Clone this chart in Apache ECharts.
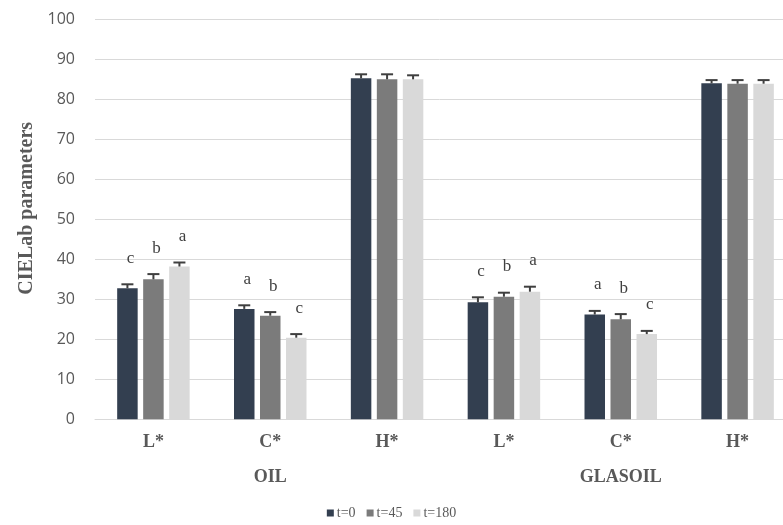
<!DOCTYPE html>
<html>
<head>
<meta charset="utf-8">
<script src="https://cdn.jsdelivr.net/npm/echarts@6/dist/echarts.min.js"></script>
<style>
  html, body { margin: 0; padding: 0; background: #ffffff; }
  #chart { width: 783px; height: 525px; }
</style>
</head>
<body>
<div id="chart"></div>
<script>
// CIELab colour parameters of the two products over storage time
const parameters = ['L*', 'C*', 'H*', 'L*', 'C*', 'H*'];
const products = ['', 'OIL', '', '', 'GLASOIL', ''];
const seriesNames = ['t=0', 't=45', 't=180'];

const t0 = [32.75, 27.6, 85.25, 29.25, 26.2, 84.0];
const t45 = [35.0, 25.9, 85.0, 30.65, 25.0, 83.9];
const t180 = [38.2, 20.4, 85.0, 31.9, 21.3, 83.9];

// standard deviations (upper error bars)
const sd0 = [1.0, 0.9, 1.0, 1.25, 0.9, 0.8];
const sd45 = [1.3, 0.9, 1.25, 1.0, 1.3, 0.9];
const sd180 = [1.0, 0.9, 1.0, 1.25, 0.8, 0.9];

// significance letters
const sig0 = ['c', 'a', '', 'c', 'a', ''];
const sig45 = ['b', 'b', '', 'b', 'b', ''];
const sig180 = ['a', 'c', '', 'a', 'c', ''];

const yTicks = { min: 0, max: 100, interval: 10 };

const colors = ['#333f50', '#7b7b7b', '#d9d9d9'];
const values = [t0, t45, t180];
const sds = [sd0, sd45, sd180];
const sigs = [sig0, sig45, sig180];

const BAR_W = 20.5;
const BAR_STEP = 26;

function errorSeries(k) {
  return {
    type: 'custom',
    xAxisIndex: 0,
    yAxisIndex: 0,
    z: 5,
    silent: true,
    data: values[k].map((v, i) => [i, v, sds[k][i]]),
    renderItem: function (params, api) {
      const i = api.value(0);
      const v = api.value(1);
      const e = api.value(2);
      const letter = sigs[k][i];
      const base = api.coord([i, v]);
      const top = api.coord([i, v + e]);
      const x = base[0] + (k - 1) * BAR_STEP;
      const children = [
        { type: 'line', shape: { x1: x, y1: base[1], x2: x, y2: top[1] },
          style: { stroke: '#3f3f3f', lineWidth: 2 } },
        { type: 'line', shape: { x1: x - 6, y1: top[1], x2: x + 6, y2: top[1] },
          style: { stroke: '#3f3f3f', lineWidth: 2 } }
      ];
      if (letter) {
        children.push({
          type: 'text',
          style: {
            x: x + 3, y: top[1] - 26, text: letter,
            fill: '#404040', font: '17px "Liberation Serif", serif',
            align: 'center', verticalAlign: 'middle'
          }
        });
      }
      return { type: 'group', children: children };
    }
  };
}

const chart = echarts.init(document.getElementById('chart'), null, { renderer: 'canvas' });

const barSeries = seriesNames.map((name, k) => ({
  name: name,
  type: 'bar',
  data: values[k],
  barWidth: BAR_W,
  barGap: ((BAR_STEP - BAR_W) / BAR_W * 100).toFixed(1) + '%',
  itemStyle: { color: colors[k] },
  z: 2
}));

chart.setOption({
  animation: false,
  backgroundColor: '#ffffff',
  grid: { left: 95, top: 19.3, width: 701, height: 400, containLabel: false, outerBoundsMode: 'none' },
  legend: {
    data: seriesNames,
    bottom: 0,
    left: 'center',
    icon: 'rect',
    itemWidth: 7,
    itemHeight: 7,
    itemGap: 11,
    textStyle: { color: '#595959', fontSize: 14, fontFamily: '"Liberation Serif", serif', padding: [0, 0, 0, -2] }
  },
  xAxis: [
    {
      type: 'category',
      data: parameters,
      axisLine: { lineStyle: { color: '#d9d9d9', width: 1 } },
      axisTick: { show: false },
      axisLabel: {
        interval: 0, margin: 14, color: '#595959', fontSize: 18, fontWeight: 'bold',
        fontFamily: '"Liberation Serif", serif'
      }
    },
    {
      type: 'category',
      data: products,
      position: 'bottom',
      offset: 35,
      axisLine: { show: false },
      axisTick: { show: false },
      axisLabel: {
        interval: 0, margin: 14, color: '#595959', fontSize: 18, fontWeight: 'bold',
        fontFamily: '"Liberation Serif", serif'
      }
    }
  ],
  yAxis: {
    type: 'value',
    min: yTicks.min,
    max: yTicks.max,
    interval: yTicks.interval,
    name: 'CIELab parameters',
    nameLocation: 'middle',
    nameGap: 58,
    nameTextStyle: {
      color: '#595959', fontSize: 20, fontWeight: 'bold',
      fontFamily: '"Liberation Serif", serif', padding: [0, 0, 0, 22]
    },
    axisLine: { show: false },
    axisTick: { show: false },
    splitLine: { lineStyle: { color: '#d9d9d9', width: 1 } },
    axisLabel: { margin: 20, color: '#595959', fontSize: 16, fontFamily: '"Open Sans", sans-serif' }
  },
  series: barSeries.concat([0, 1, 2].map(errorSeries))
});
</script>
</body>
</html>
